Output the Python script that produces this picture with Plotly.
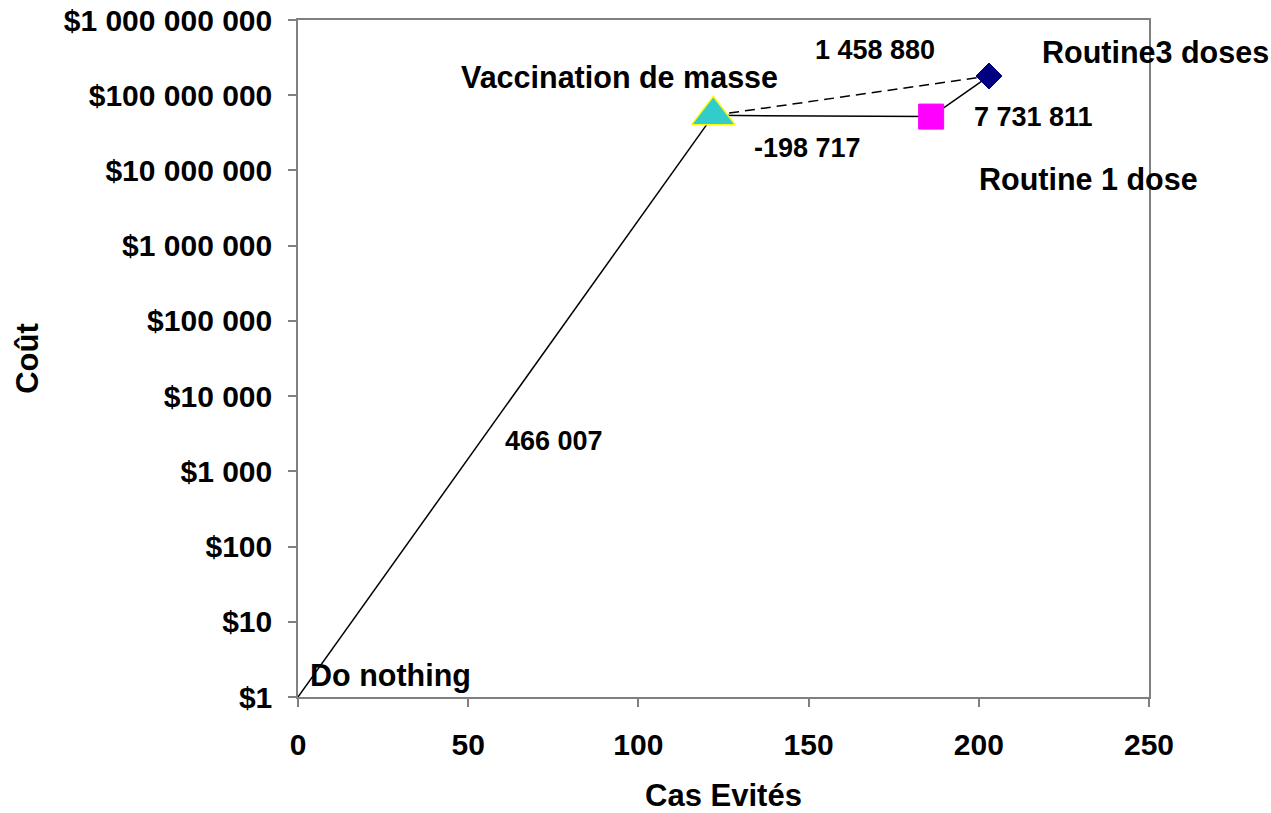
import plotly.graph_objects as go

# Strategies: cases avoided and total cost
strategies = ["Do nothing", "Vaccination de masse", "Routine 1 dose", "Routine3 doses"]
cases_avoided = [0, 122, 186, 203]
costs = [1, 54_000_000, 52_000_000, 180_000_000]

# Incremental cost-effectiveness ratios shown along the frontier
icer_labels = ["466 007", "-198 717", "1 458 880", "7 731 811"]

y_tickvals = [1, 10, 100, 1_000, 10_000, 100_000, 1_000_000, 10_000_000, 100_000_000, 1_000_000_000]
y_ticktext = ["$1", "$10", "$100", "$1 000", "$10 000", "$100 000", "$1 000 000",
              "$10 000 000", "$100 000 000", "$1 000 000 000"]

FONT = "Liberation Sans, Arial, sans-serif"
lbl_font = dict(family=FONT, size=30.5, color="black", weight="bold")
num_font = dict(family=FONT, size=27, color="black", weight="bold")
tick_font = dict(family=FONT, size=30, color="black", weight="bold")
title_font = dict(family=FONT, size=31, color="black", weight="bold")

dn, vm, r1, r3 = range(4)
fig = go.Figure()

def segment(a, b, dash="solid"):
    fig.add_trace(go.Scatter(
        x=[cases_avoided[a], cases_avoided[b]], y=[costs[a], costs[b]],
        mode="lines", line=dict(color="black", width=1.5, dash=dash),
        hoverinfo="skip", showlegend=False))

segment(dn, vm)
segment(vm, r1)
segment(r1, r3)
segment(vm, r3, dash="10px,6px")

marker_styles = {
    vm: dict(symbol="triangle-up", size=38, color="#33CCCC", line=dict(color="#FFFF00", width=1.5)),
    r1: dict(symbol="square", size=25, color="#FF00FF", line=dict(color="#FF00FF", width=1)),
    r3: dict(symbol="diamond", size=20, color="#000080", line=dict(color="#000080", width=1)),
}
for i, m in marker_styles.items():
    fig.add_trace(go.Scatter(
        x=[cases_avoided[i]], y=[costs[i]], mode="markers", marker=m,
        name=strategies[i], showlegend=False))

# Text labels (x in data units, y in log10 units)
annots = [
    (strategies[dn], 27.3, 0.29, lbl_font, "center"),
    (strategies[vm], 94.3, 8.245, lbl_font, "center"),
    (strategies[r1], 232.1, 6.89, lbl_font, "center"),
    (strategies[r3], 218.0, 8.58, lbl_font, "left"),
    (icer_labels[0], 75.2, 3.40, num_font, "center"),
    (icer_labels[1], 149.8, 7.30, num_font, "center"),
    (icer_labels[2], 169.5, 8.60, num_font, "center"),
    (icer_labels[3], 216.2, 7.71, num_font, "center"),
]
for text, ax, ay, f, anchor in annots:
    fig.add_annotation(x=ax, y=ay, xref="x", yref="y", text=text, showarrow=False,
                       font=f, xanchor=anchor, yanchor="middle")

axis_common = dict(
    showgrid=False, zeroline=False, showline=True, linecolor="#808080", linewidth=1.5,
    mirror=True, ticks="outside", ticklen=8, tickcolor="#808080", tickwidth=1.5,
    tickfont=tick_font, automargin=False,
)

fig.update_xaxes(range=[0, 250], dtick=50, tick0=0,
                 title=dict(text="Cas Evités", font=title_font, standoff=42),
                 ticklabelstandoff=12,
                 **axis_common)
fig.update_yaxes(type="log", range=[0, 9], tickvals=y_tickvals, ticktext=y_ticktext,
                 title=dict(text="Coût", font=title_font, standoff=16),
                 ticklabelstandoff=10,
                 **axis_common)

fig.update_layout(
    width=1271, height=813,
    margin=dict(l=298, r=122, t=20, b=116),
    paper_bgcolor="white", plot_bgcolor="white",
    showlegend=False,
)

fig.write_html("out.html")
